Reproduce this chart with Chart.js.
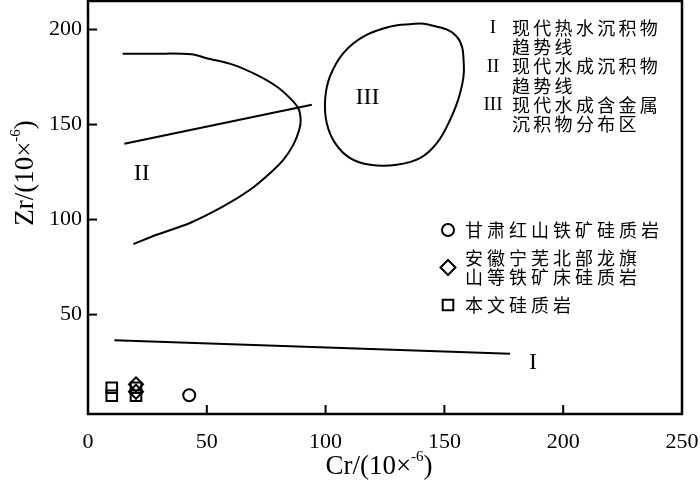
<!DOCTYPE html>
<html>
<head>
<meta charset="utf-8">
<script src="https://cdn.jsdelivr.net/npm/chart.js@4.4.0/dist/chart.umd.min.js"></script>
<style>
  html, body { margin: 0; padding: 0; background: #fff; }
  #wrap { width: 700px; height: 485px; position: relative; }
</style>
</head>
<body>
<div id="wrap"><canvas id="chart"></canvas></div>
<script>
// Trend line I (modern hydrothermal sediments)
const lineIX = [11.1, 177.6];
const lineIY = [36.5, 29.4];
// Trend line II (modern hydrogenous sediments)
const lineIIX = [15.3, 94.2];
const lineIIY = [139.9, 160.4];
// Curved boundary around field II
const curveIIX = [14.6, 29.0, 43.6, 50.0, 61.2, 71.0, 79.4, 85.0, 88.5, 89.5, 88.9, 86.4, 82.2, 76.6, 68.2, 56.9, 42.9, 28.9, 19.1];
const curveIIY = [187.2, 187.3, 187.0, 184.9, 181.4, 176.1, 170.0, 163.9, 158.6, 152.5, 147.2, 139.3, 131.4, 124.4, 115.7, 106.9, 98.2, 92.0, 87.1];
// Field III outline; first and last two points repeat so the loop closes smoothly
const fieldIIIX = [135.5, 142.6, 155.2, 158.2, 156.6, 152.4, 146.8, 139.7, 129.9, 118.7, 110.3, 104.0, 100.5, 99.8, 101.8, 107.4, 115.9, 127.1, 135.5, 142.6, 155.2];
const fieldIIIY = [202.8, 202.8, 196.3, 180.5, 166.5, 152.5, 140.2, 132.3, 128.8, 128.8, 132.3, 140.2, 150.7, 163.0, 175.2, 187.5, 196.3, 201.5, 202.8, 202.8, 196.3];

// Samples
const gansuX = [42.6];
const gansuY = [7.6];
const anhuiX = [20.2, 20.2];
const anhuiY = [13.3, 9.4];
const thisStudyX = [10.0, 10.0, 20.2, 20.2];
const thisStudyY = [11.5, 7.3, 11.5, 7.3];

// Axis ticks
const xTicks = [0, 50, 100, 150, 200, 250];
const yTicks = [50, 100, 150, 200];

// Roman labels inside the plot
const romanText = ['I', 'II', 'III'];
const romanX = [187.3, 22.6, 117.6];
const romanY = [24.6, 124.3, 164.1];

// Legend texts
const trendKeys = ['I', 'II', 'III'];
const trendNames = [['现代热水沉积物', '趋势线'], ['现代水成沉积物', '趋势线'], ['现代水成含金属', '沉积物分布区']];
const sampleNames = [['甘肃红山铁矿硅质岩'], ['安徽宁芜北部龙旗', '山等铁矿床硅质岩'], ['本文硅质岩']];
const sampleStyles = ['circle', 'rectRot', 'rect'];
const sampleRadius = [6, 7.5, 7.5];

const SERIF = '"Liberation Serif", "Times New Roman", serif';
const CJK = '"Noto Sans CJK SC", "Noto Sans", sans-serif';

function pts(xs, ys) {
    return xs.map((v, i) => ({ x: v, y: ys[i] }));
}

function lineSet(xs, ys, tension, wrapped) {
    const last = xs.length - 1;
    const set = {
        data: pts(xs, ys),
        showLine: true,
        borderColor: '#000',
        borderWidth: 2,
        pointRadius: 0,
        tension: tension,
        fill: false
    };
    if (wrapped) {
        // hide the helper segments at both ends of a closed loop
        set.segment = {
            borderColor: c => (c.p0DataIndex === 0 || c.p1DataIndex === last) ? 'rgba(0,0,0,0)' : '#000'
        };
    }
    return set;
}

function markerSet(xs, ys, style, radius) {
    return {
        data: pts(xs, ys),
        showLine: false,
        pointStyle: style,
        pointRadius: radius,
        pointBorderColor: '#000',
        pointBackgroundColor: 'rgba(0,0,0,0)',
        pointBorderWidth: 2
    };
}

function spacedText(ctx, text, x, y, step) {
    for (let i = 0; i < text.length; i++) {
        ctx.fillText(text[i], x + i * step, y);
    }
}

function supTitle(ctx, base, sup, tail, cx, cy, size) {
    ctx.font = size + 'px ' + SERIF;
    const w1 = ctx.measureText(base).width;
    const w3 = ctx.measureText(tail).width;
    ctx.font = Math.round(size * 0.55) + 'px ' + SERIF;
    const w2 = ctx.measureText(sup).width;
    let x = cx - (w1 + w2 + w3) / 2;
    ctx.textAlign = 'left';
    ctx.textBaseline = 'middle';
    ctx.font = size + 'px ' + SERIF;
    ctx.fillText(base, x, cy);
    x += w1;
    ctx.font = Math.round(size * 0.55) + 'px ' + SERIF;
    ctx.fillText(sup, x, cy - size * 0.38);
    x += w2;
    ctx.font = size + 'px ' + SERIF;
    ctx.fillText(tail, x, cy);
}

function noPad(s) {
    s.paddingLeft = 0;
    s.paddingRight = 0;
    s.paddingTop = 0;
    s.paddingBottom = 0;
}

const decor = {
    id: 'decor',
    afterDraw(chart) {
        const { ctx, chartArea: a, scales: { x, y } } = chart;
        ctx.save();
        ctx.strokeStyle = '#000';
        ctx.fillStyle = '#000';

        // frame and inward ticks
        ctx.lineWidth = 2.5;
        ctx.strokeRect(a.left, a.top, a.right - a.left, a.bottom - a.top);
        ctx.lineWidth = 2;
        xTicks.forEach(v => {
            const px = x.getPixelForValue(v);
            ctx.beginPath();
            ctx.moveTo(px, a.bottom);
            ctx.lineTo(px, a.bottom - 9);
            ctx.stroke();
        });
        yTicks.forEach(v => {
            const py = y.getPixelForValue(v);
            ctx.beginPath();
            ctx.moveTo(a.left, py);
            ctx.lineTo(a.left + 9, py);
            ctx.stroke();
        });

        // roman labels in the plot
        ctx.font = '24px ' + SERIF;
        ctx.textAlign = 'center';
        ctx.textBaseline = 'middle';
        romanText.forEach((t, i) => {
            ctx.fillText(t, x.getPixelForValue(romanX[i]), y.getPixelForValue(romanY[i]));
        });

        // axis titles
        supTitle(ctx, 'Cr/(10×', '-6', ')', 379, 467, 27);
        ctx.save();
        ctx.translate(26, 173);
        ctx.rotate(-Math.PI / 2);
        supTitle(ctx, 'Zr/(10×', '-6', ')', 0, 0, 27);
        ctx.restore();

        // legend for trend lines / field
        let row = 28;
        trendKeys.forEach((k, i) => {
            ctx.font = '19px ' + SERIF;
            ctx.textAlign = 'center';
            ctx.textBaseline = 'middle';
            ctx.fillText(k, 493, row);
            ctx.font = '18px ' + CJK;
            ctx.textAlign = 'left';
            trendNames[i].forEach(line => {
                spacedText(ctx, line, 512, row, 21.3);
                row += 19.3;
            });
        });

        // legend for samples
        const rows = [230, 258, 305];
        ctx.textAlign = 'left';
        ctx.textBaseline = 'middle';
        sampleNames.forEach((lines, i) => {
            const my = lines.length > 1 ? rows[i] + 9.5 : rows[i];
            ctx.lineWidth = 2;
            ctx.fillStyle = 'rgba(0,0,0,0)';
            Chart.helpers.drawPoint(ctx, { pointStyle: sampleStyles[i], radius: sampleRadius[i], borderWidth: 2, rotation: 0 }, 448, my);
            ctx.fillStyle = '#000';
            ctx.font = '18px ' + CJK;
            lines.forEach((line, j) => {
                spacedText(ctx, line, 465, rows[i] + j * 19, 22);
            });
        });
        ctx.restore();
    }
};

new Chart(document.getElementById('chart'), {
    type: 'scatter',
    data: {
        datasets: [
            lineSet(lineIX, lineIY, 0, false),
            lineSet(lineIIX, lineIIY, 0, false),
            lineSet(curveIIX, curveIIY, 0.3, false),
            lineSet(fieldIIIX, fieldIIIY, 0.4, true),
            markerSet(gansuX, gansuY, 'circle', 6),
            markerSet(anhuiX, anhuiY, 'rectRot', 7),
            markerSet(thisStudyX, thisStudyY, 'rect', 7.5)
        ]
    },
    options: {
        responsive: true,
        maintainAspectRatio: false,
        animation: false,
        layout: { autoPadding: false, padding: { top: 1, right: 18, left: 0, bottom: 0 } },
        plugins: { legend: { display: false }, tooltip: { enabled: false } },
        scales: {
            x: {
                type: 'linear',
                min: 0,
                max: 250,
                afterBuildTicks: s => { s.ticks = xTicks.map(v => ({ value: v })); },
                afterFit: s => { s.height = 71; noPad(s); },
                grid: { display: false, drawTicks: false },
                border: { display: false },
                ticks: { color: '#000', padding: 15, font: { family: SERIF, size: 22 } }
            },
            y: {
                type: 'linear',
                min: -2.3,
                max: 215,
                afterBuildTicks: s => { s.ticks = yTicks.map(v => ({ value: v })); },
                afterFit: s => { s.width = 88; noPad(s); },
                grid: { display: false, drawTicks: false },
                border: { display: false },
                ticks: { color: '#000', padding: 6, font: { family: SERIF, size: 22 } }
            }
        }
    },
    plugins: [decor]
});
</script>
</body>
</html>
